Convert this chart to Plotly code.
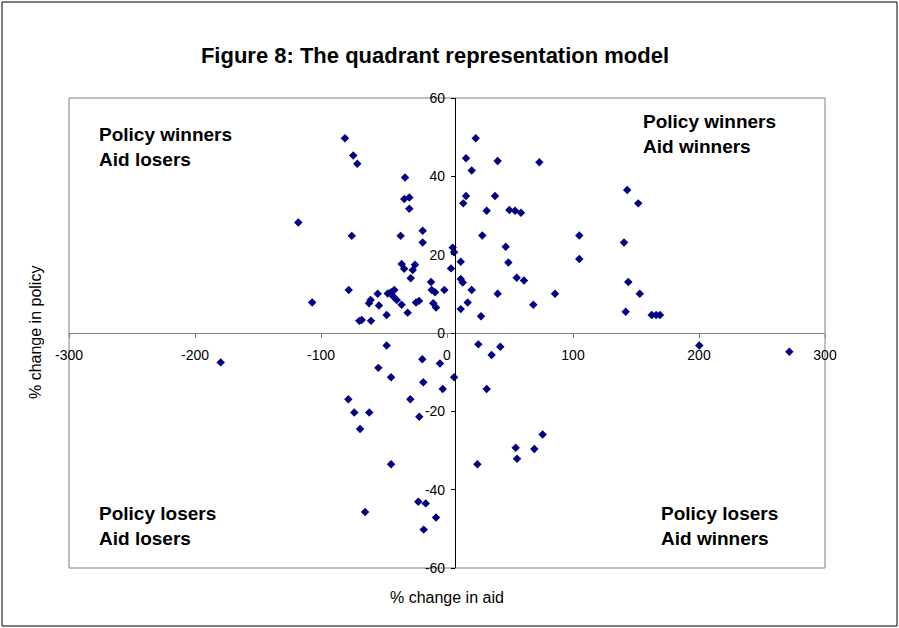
import plotly.graph_objects as go

# values
aid_change = [
    -81, -74.4, -71.2, -33.3, -33.9, -29.9, -29.9, -118, -75.6, -36.8, -19.3, -19.3,
    4.5, 5.6, -36, -34, -25.4, -27.2, -28.8, 3.2, 10.9, -12.7, -12.1, -9.5, -2.1,
    10.9, 12.5, -78, -107, -55, -60.6, -61.9, -54, -47, -44.4, -41.8, -42.6, -39.9,
    -36, -47.9, -31.2, -24.6, -22.2, -10.9, -8.7, -69.6, -67.7, -60.3, 10.9,
    22.8, 15.1, 19.6, 40.2, 73.3, 15.1, 12.9, 38.1, 31.5, 49.5, 54, 58.7, 28, 46.6,
    48.7, 55.3, 61.1, 19.6, 40.2, 85.7, 16.4, 68.5, 27, 105, 105, 143, 151.8, 140.5,
    143.9, 153, 141.8, 162.5, 166, 169,
    -47.9, -54.5, -44.4, -19.6, -5.6, 5.6, -18.8, -3.4, -78.3, -29.1, -73.6, -61.7,
    -22, -69, -44.4, -22.8, -16.9, -8.7, -18.5, -65, 24.9, 35.4, 42.3, 31.5, 24.1,
    75.9, 54.5, 55.6, 69.3, 200.2, 271.7, -179.6,
]
policy_change = [
    49.7, 45.3, 43.2, 39.7, 34.2, 34.6, 31.7, 28.2, 24.8, 24.8, 26.1, 23.1,
    21.8, 20.6, 17.6, 16.4, 17.4, 16.1, 14, 16.5, 18.2, 13, 11, 10.4, 11,
    13.8, 12.9, 11, 7.8, 10, 8.4, 7.6, 7, 10.1, 10.4, 11, 9.3, 8.4,
    7.2, 4.6, 5.2, 7.8, 8.2, 7.6, 6.5, 3.1, 3.3, 3.1, 6.1,
    49.7, 44.6, 41.5, 43.9, 43.6, 35, 33.1, 35, 31.2, 31.4, 31.2, 30.7, 24.9, 22,
    18, 14.1, 13.4, 11, 10, 10, 7.8, 7.2, 4.3, 24.9, 18.9, 36.5, 33.1, 23.1,
    13, 10, 5.4, 4.6, 4.6, 4.6,
    -3.2, -8.9, -11.3, -6.7, -7.8, -11.3, -12.6, -14.3, -16.9, -16.9, -20.3, -20.3,
    -21.4, -24.5, -33.5, -43.1, -43.5, -47.1, -50.2, -45.7, -2.9, -5.6, -3.5, -14.3, -33.5,
    -25.9, -29.3, -32.1, -29.6, -3.2, -4.8, -7.5,
]

x_ticks = [-300, -200, -100, 0, 100, 200, 300]
y_ticks = [-60, -40, -20, 0, 20, 40, 60]
y_axis_cross = 6.3  # vertical axis crosses a bit right of 0

quadrants = [
    ("Policy winners<br>Aid losers", -277.5, 54),
    ("Policy winners<br>Aid winners", 153.6, 57.2),
    ("Policy losers<br>Aid losers", -277.5, -42.9),
    ("Policy losers<br>Aid winners", 168.6, -42.9),
]

FONT = "Arial, Liberation Sans, sans-serif"

fig = go.Figure()
fig.add_trace(go.Scatter(x=aid_change, y=policy_change, mode="markers",
                         marker=dict(symbol="diamond", size=6.5, color="#000080",
                                     line=dict(width=0)),
                         showlegend=False))

fig.update_layout(
    width=899, height=628,
    paper_bgcolor="white", plot_bgcolor="white",
    font=dict(family=FONT, size=14, color="black"),
    margin=dict(l=69, r=74, t=98, b=60),
    title=dict(text="<b>Figure 8: The quadrant representation model</b>",
               x=435 / 899, xanchor="center", y=1 - 55 / 628, yanchor="middle",
               font=dict(family=FONT, size=22, color="black")),
)
fig.update_xaxes(range=[-300, 300], tickvals=x_ticks, ticktext=[str(v) for v in x_ticks],
                 ticks="outside", ticklen=4,
                 tickcolor="#808080", showline=True, linecolor="#808080", linewidth=1,
                 showgrid=False, zeroline=False, anchor="free", position=0.5,
                 ticklabelstandoff=5, tickfont=dict(size=14))
fig.update_yaxes(range=[-60, 60], tickvals=y_ticks, ticktext=[str(v) for v in y_ticks],
                 ticks="outside", ticklen=4,
                 tickcolor="black", showline=True, linecolor="black", linewidth=1,
                 showgrid=False, zeroline=False, anchor="free",
                 position=(y_axis_cross + 300) / 600,
                 ticklabelstandoff=3, tickfont=dict(size=14))

# plot frame and outer chart border
fig.add_shape(type="rect", xref="paper", yref="paper", x0=0, y0=0, x1=1, y1=1,
              line=dict(color="#808080", width=1), layer="below")
fig.add_shape(type="rect", xref="paper", yref="paper",
              x0=-67 / 756, x1=1 + 72 / 756, y0=-58 / 470, y1=1 + 96 / 470,
              line=dict(color="black", width=1))

for text, qx, qy in quadrants:
    fig.add_annotation(x=qx, y=qy, text="<b>" + text + "</b>", showarrow=False,
                       xanchor="left", yanchor="top", align="left",
                       font=dict(family=FONT, size=19, color="black"))

fig.add_annotation(x=0.5, y=-29 / 470, xref="paper", yref="paper",
                   text="% change in aid", showarrow=False, yanchor="middle",
                   font=dict(family=FONT, size=16))
fig.add_annotation(x=-34 / 756, y=0.5, xref="paper", yref="paper",
                   text="% change in policy", showarrow=False, textangle=-90,
                   xanchor="center", font=dict(family=FONT, size=16))

fig.write_html("out.html", config={"displayModeBar": False},
               post_script="document.body.style.margin='0';")
